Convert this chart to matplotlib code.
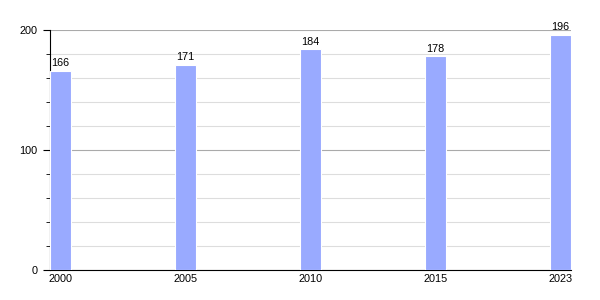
import matplotlib.pyplot as plt
from matplotlib.ticker import MultipleLocator

years = ['2000', '2005', '2010', '2015', '2023']
population = [166, 171, 184, 178, 196]

plt.rcParams['font.family'] = ['Liberation Sans', 'DejaVu Sans']
plt.rcParams['font.size'] = 7.8

fig = plt.figure(figsize=(6, 3), dpi=100)
ax = fig.add_axes([50/600, 0.1, 521/600, 0.8])

x = range(len(years))
w = 0.168
ax.bar(x, population, width=w, color='#99aaff', edgecolor='white', linewidth=0.8, zorder=3)
for i, v in zip(x, population):
    ax.text(i, v + 2, str(v), ha='center', va='bottom', zorder=4)

ax.set_xlim(-w/2, len(years) - 1 + w/2)
ax.set_ylim(0, 200)
ax.set_xticks(list(x))
ax.set_xticklabels(years)
ax.yaxis.set_major_locator(MultipleLocator(100))
ax.yaxis.set_minor_locator(MultipleLocator(20))
ax.grid(axis='y', which='major', color='#aaaaaa', linewidth=0.8, zorder=1)
ax.grid(axis='y', which='minor', color='#dddddd', linewidth=0.8, zorder=1)
ax.set_axisbelow(True)

for s in ['top', 'right']:
    ax.spines[s].set_visible(False)
ax.spines['left'].set_color('black')
ax.spines['bottom'].set_color('black')
ax.tick_params(axis='x', length=0, pad=3)
ax.tick_params(axis='y', which='major', length=5, pad=4)
ax.tick_params(axis='y', which='minor', length=3)

fig.savefig('out.png', dpi=100)
